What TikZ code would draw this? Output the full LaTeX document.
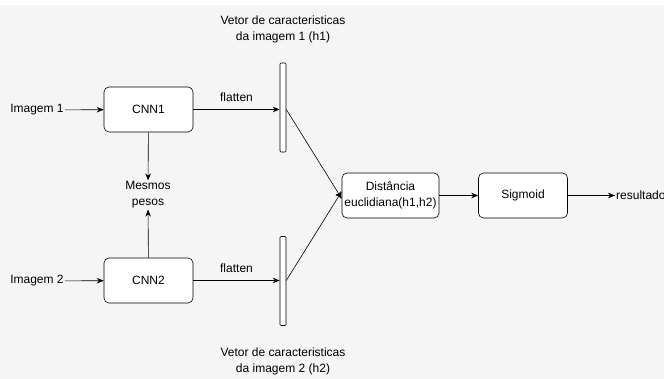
\documentclass[tikz,border=0pt]{standalone}
\usepackage{fontspec}
\setmainfont{Liberation Sans}
\usetikzlibrary{arrows.meta}
\definecolor{bggray}{RGB}{245,245,245}

\begin{document}
\begin{tikzpicture}[x=1pt, y=-1pt,
    font=\fontsize{12}{16}\selectfont,
    box/.style={draw, rounded corners=5pt, fill=white, line width=0.6pt, minimum width=89pt, minimum height=45pt, align=center},
    bar/.style={draw, rounded corners=1pt, fill=white, line width=0.6pt, minimum width=6pt, minimum height=89pt, inner sep=0pt},
    arr/.style={-{Stealth[length=7pt,width=5.5pt]}, line width=0.6pt},
    txt/.style={inner sep=1pt, align=center}]
    \fill[white] (0,0) rectangle (664,5);
    \fill[bggray] (0,5) rectangle (664,379);
    \useasboundingbox (0,0) rectangle (664,379);

    \node[txt] (img1) at (37,110) {Imagem 1};
    \node[txt] (img2) at (37,281) {Imagem 2};
    \node[box] (cnn1) at (148.5,109.5) {CNN1};
    \node[box] (cnn2) at (148.5,280.5) {CNN2};
    \node[txt] (pesos) at (148,195) {Mesmos\\pesos};
    \node[bar] (bar1) at (283,107.5) {};
    \node[bar] (bar2) at (283,281) {};
    \node[txt] (lbl1) at (283,29) {Vetor de caracteristicas\\da imagem 1 (h1)};
    \node[txt] (lbl2) at (283,361) {Vetor de caracteristicas\\da imagem 2 (h2)};
    \node[box, minimum width=97pt, inner sep=2pt] (dist) at (390.5,195.5) {Distância\\euclidiana(h1,h2)};
    \node[box] (sig) at (523,195.5) {Sigmoid};
    \node[txt, anchor=west] (res) at (615,195.5) {resultado};

    \draw[arr] (img1) -- (cnn1);
    \draw[arr] (img2) -- (cnn2);
    \draw[arr] (cnn1) -- (pesos);
    \draw[arr] (cnn2) -- (pesos);
    \draw[arr] (cnn1.east) -- node[above=4pt] {flatten} (cnn1.east -| bar1.west);
    \draw[arr] (cnn2.east) -- node[above=4pt] {flatten} (cnn2.east -| bar2.west);
    \draw[arr] (cnn1.east -| bar1.east) -- ([yshift=-3pt]dist.west);
    \draw[arr] (cnn2.east -| bar2.east) -- ([yshift=4pt]dist.west);
    \draw[arr] (dist) -- (sig);
    \draw[arr] (sig) -- (res);
\end{tikzpicture}
\end{document}
